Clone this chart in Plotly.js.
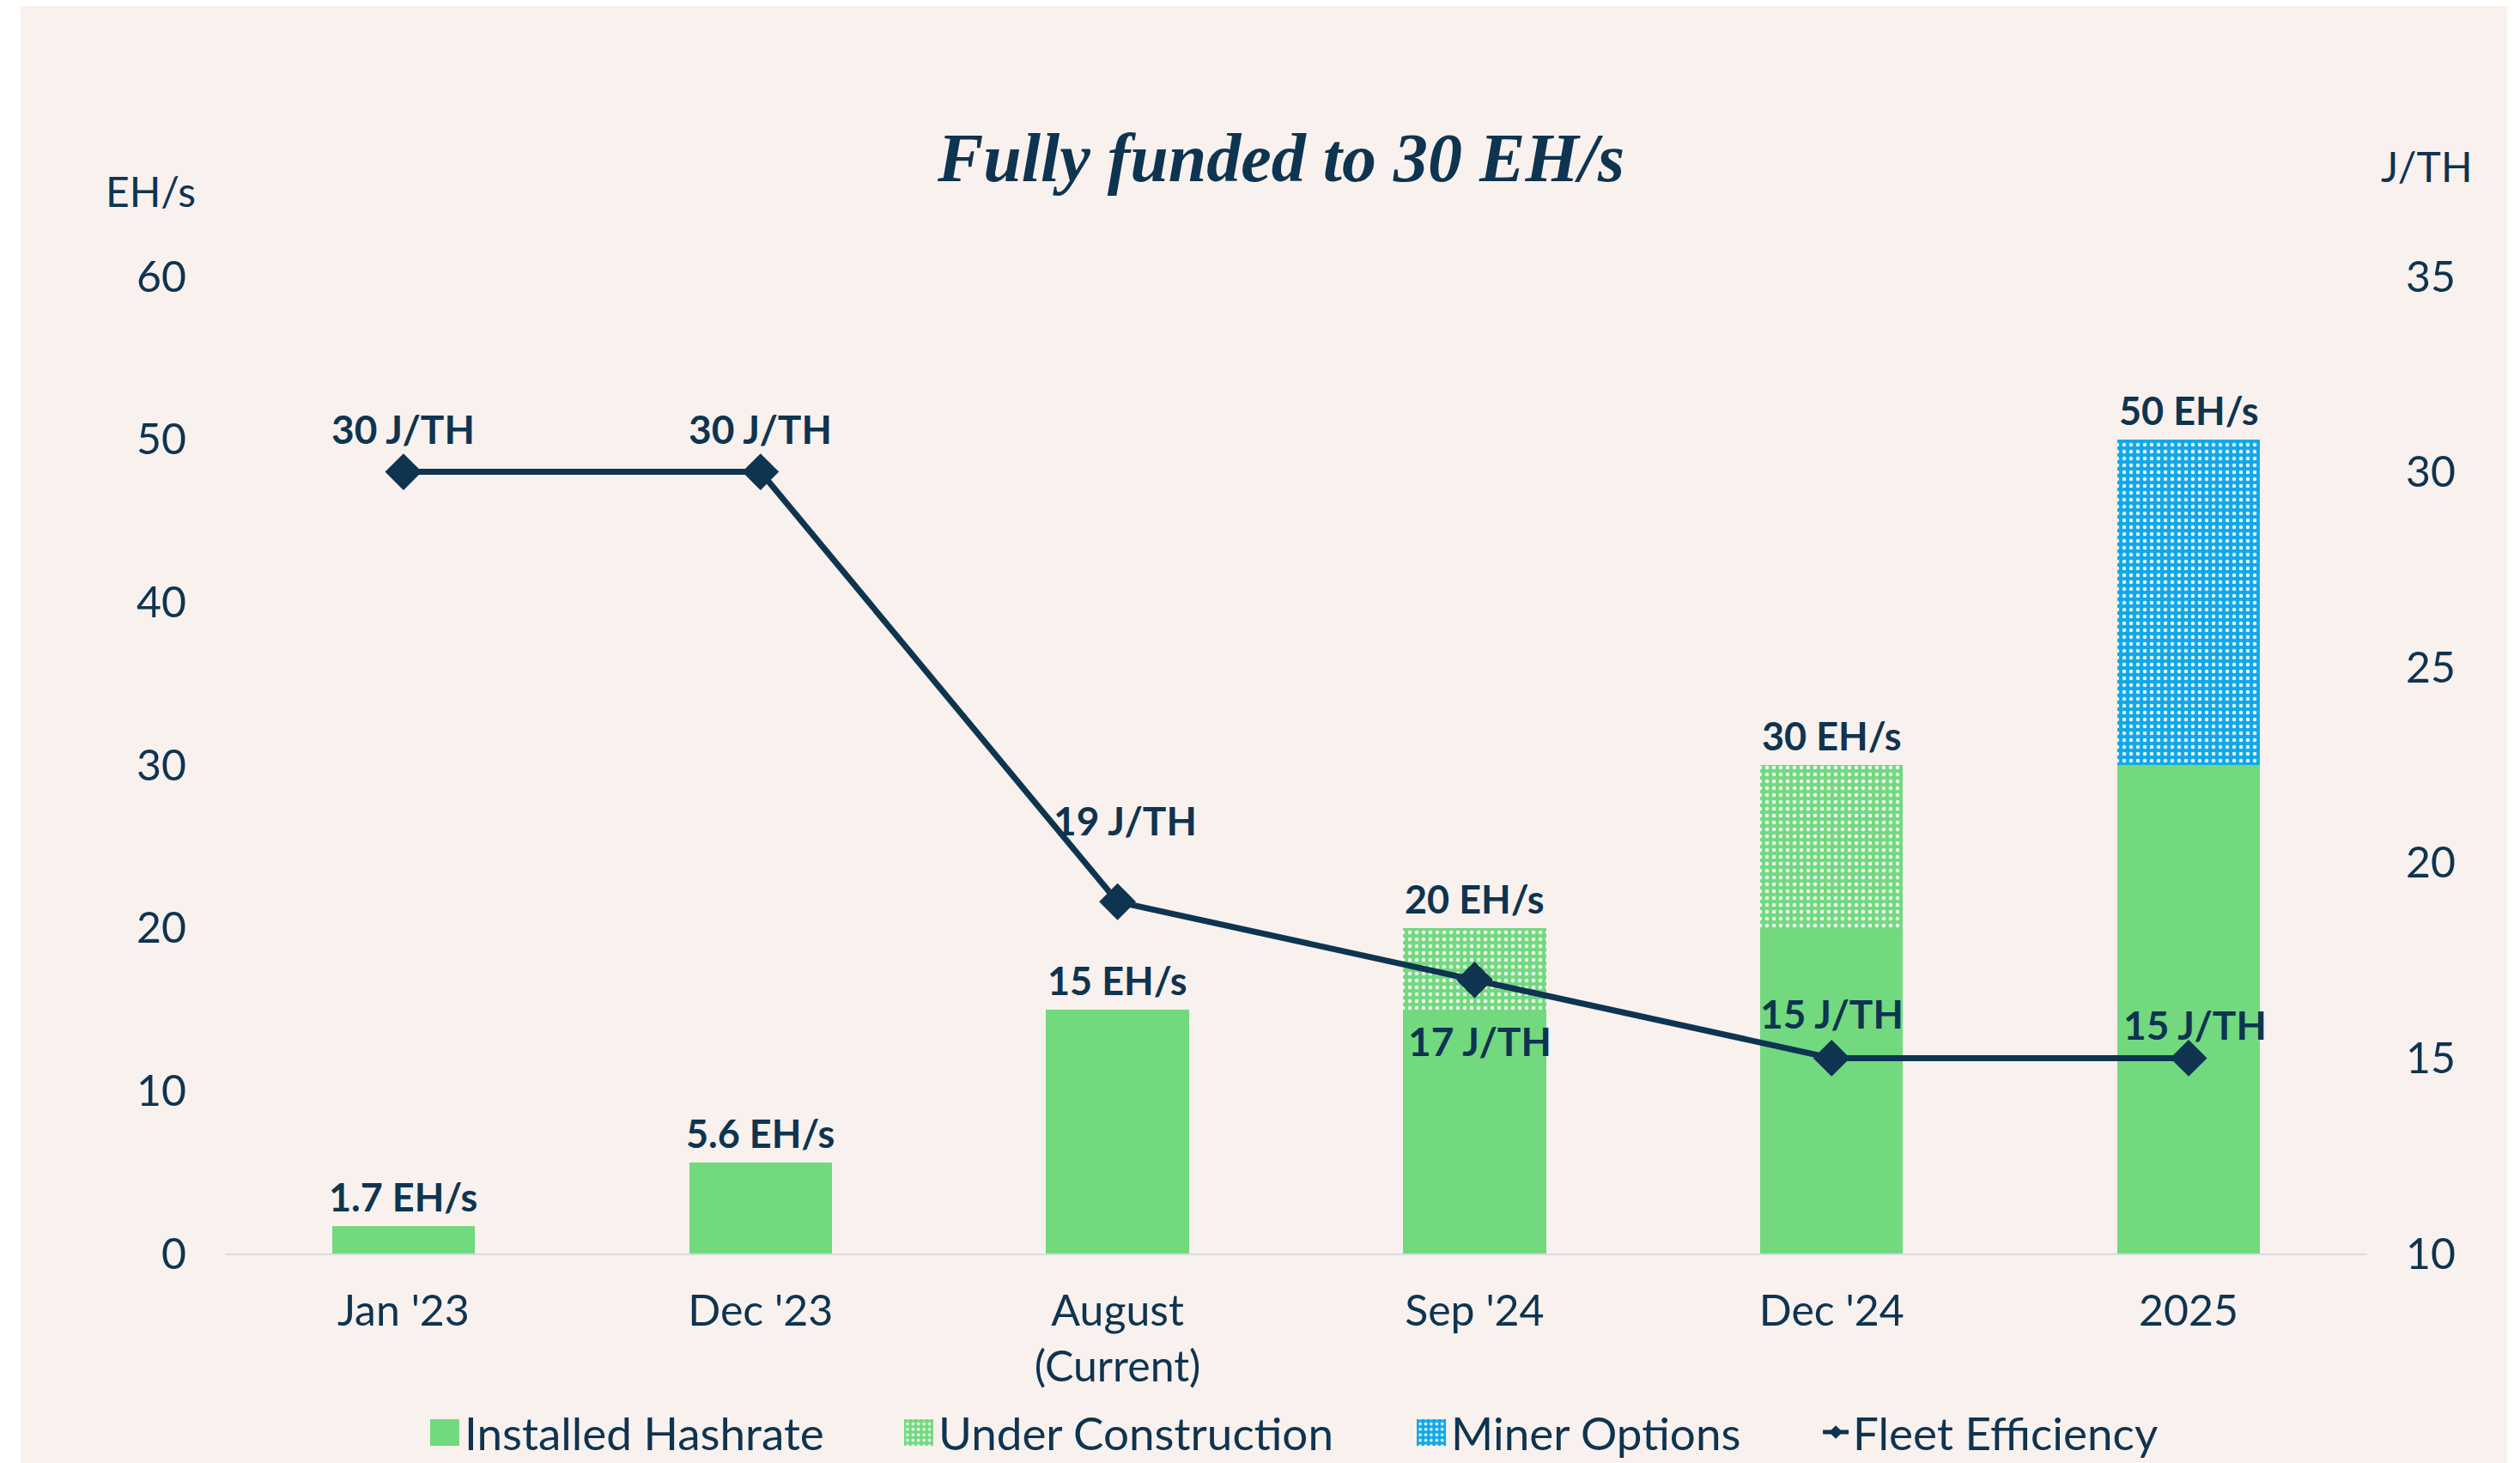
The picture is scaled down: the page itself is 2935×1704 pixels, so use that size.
<!DOCTYPE html>
<html>
<head>
<meta charset="utf-8">
<script src="https://cdn.plot.ly/plotly-3.0.1.min.js"></script>
<style>
  html, body { margin: 0; padding: 0; background: #ffffff; width: 2935px; height: 1704px; overflow: hidden; }
  #chart { position: absolute; left: 24px; top: 7px; width: 2896px; height: 1697px; }
</style>
</head>
<body>
<div id="chart"></div>
<script>
// ---- data ----
const categories = ["Jan '23", "Dec '23", "August<br>(Current)", "Sep '24", "Dec '24", "2025"];
const installedHashrate = [1.7, 5.6, 15, 15, 20, 30];
const underConstruction = [0, 0, 0, 5, 10, 0];
const minerOptions = [0, 0, 0, 0, 0, 20];
const fleetEfficiency = [30, 30, 19, 17, 15, 15];
const totalLabels = ["1.7 EH/s", "5.6 EH/s", "15 EH/s", "20 EH/s", "30 EH/s", "50 EH/s"];
const efficiencyLabels = ["30 J/TH", "30 J/TH", "19 J/TH", "17 J/TH", "15 J/TH", "15 J/TH"];
const leftTicks = [0, 10, 20, 30, 40, 50, 60];
const rightTicks = [10, 15, 20, 25, 30, 35];

// ---- label placement (style, px) ----
const effLabelYShift = [50, 50, 95, -71, 52, 39];
const effLabelXShift = [0, 0, 9, 6, 0, 7];

const NAVY = '#0E3450';
const GREEN = '#72D97F';
const BLUE = '#12A8E8';
const BG = '#F9F1EE';
const SANS = 'Lato, "Noto Sans", sans-serif';

const totals = installedHashrate.map((v, i) => v + underConstruction[i] + minerOptions[i]);

const barNames = ['Installed Hashrate', 'Under Construction', 'Miner Options'];

const traces = [
  {
    type: 'bar', name: barNames[0], x: categories, y: installedHashrate, legend: 'legend',
    marker: { color: GREEN, line: { width: 0 } }, width: 0.4, hoverinfo: 'skip'
  },
  {
    type: 'bar', name: barNames[1], x: categories, y: underConstruction, legend: 'legend2',
    marker: { color: GREEN, line: { width: 0 },
      pattern: { shape: '.', bgcolor: GREEN, fgcolor: '#ffffff', fgopacity: 0.9, size: 8, solidity: 0.25 } },
    width: 0.4, hoverinfo: 'skip'
  },
  {
    type: 'bar', name: barNames[2], x: categories, y: minerOptions, legend: 'legend3',
    marker: { color: BLUE, line: { width: 0 },
      pattern: { shape: '.', bgcolor: BLUE, fgcolor: '#ffffff', fgopacity: 0.9, size: 8, solidity: 0.25 } },
    width: 0.4, hoverinfo: 'skip'
  },
  {
    type: 'scatter', mode: 'lines+markers', name: 'Fleet Efficiency', legend: 'legend4',
    x: categories, y: fleetEfficiency, yaxis: 'y2',
    line: { color: NAVY, width: 7 },
    marker: { symbol: 'diamond', size: 33, color: NAVY },
    cliponaxis: false, hoverinfo: 'skip'
  }
];

const annotations = categories.map((c, i) => ({
  x: i, y: totals[i], xref: 'x', yref: 'y', text: '<b>' + totalLabels[i] + '</b>',
  showarrow: false, yanchor: 'middle', yshift: 34,
  font: { family: SANS, size: 45, color: NAVY }
}));

categories.forEach((c, i) => {
  annotations.push({
    x: i, y: fleetEfficiency[i], xref: 'x', yref: 'y2', text: '<b>' + efficiencyLabels[i] + '</b>',
    showarrow: false, xanchor: 'center', yanchor: 'middle',
    yshift: effLabelYShift[i], xshift: effLabelXShift[i],
    font: { family: SANS, size: 46, color: NAVY }
  });
});

annotations.push({
  text: 'EH/s', xref: 'paper', yref: 'paper', x: -0.0345, y: 1.087,
  xanchor: 'center', yanchor: 'middle', showarrow: false,
  font: { family: SANS, size: 48, color: NAVY }
});
annotations.push({
  text: 'J/TH', xref: 'paper', yref: 'paper', x: 1.0277, y: 1.113,
  xanchor: 'center', yanchor: 'middle', showarrow: false,
  font: { family: SANS, size: 48, color: NAVY }
});

function legendAt(x) {
  return {
    orientation: 'h', xref: 'container', yref: 'container',
    x: x, xanchor: 'left', y: 0.0212, yanchor: 'middle',
    font: { family: SANS, size: 53, color: NAVY }, bgcolor: 'rgba(0,0,0,0)',
    itemsizing: 'constant'
  };
}

const layout = {
  width: 2896, height: 1697,
  paper_bgcolor: BG, plot_bgcolor: BG,
  margin: { l: 238, r: 163, t: 315, b: 244 },
  barmode: 'stack',
  showlegend: true,
  title: {
    text: '<b><i>Fully funded to 30 EH/s</i></b>',
    x: 0.5069, xanchor: 'center', y: 0.8963, yanchor: 'middle',
    font: { family: '"Liberation Serif", "DejaVu Serif", serif', size: 80, color: NAVY }
  },
  xaxis: {
    type: 'category', range: [-0.5, 5.5],
    tickfont: { family: SANS, size: 50, color: NAVY },
    showgrid: false, zeroline: false, showline: true, linecolor: '#DCDCDC', linewidth: 2,
    ticks: '', ticklabelstandoff: 22
  },
  yaxis: {
    range: [0, 60], tickvals: leftTicks, ticktext: leftTicks.map(String),
    tickfont: { family: SANS, size: 50, color: NAVY },
    showgrid: false, zeroline: false, showline: false, ticks: '', ticklabelstandoff: 44
  },
  yaxis2: {
    overlaying: 'y', side: 'right', range: [10, 35], tickvals: rightTicks, ticktext: rightTicks.map(String),
    tickfont: { family: SANS, size: 50, color: NAVY },
    showgrid: false, zeroline: false, showline: false, ticks: '', ticklabelstandoff: 44
  },
  legend: legendAt(0.1647),
  legend2: legendAt(0.3553),
  legend3: legendAt(0.5615),
  legend4: legendAt(0.7231),
  annotations: annotations
};

// enlarge the bar legend swatches to match the reference's large square keys
function enlargeSwatches() {
  document.querySelectorAll('#chart .legendpoints path').forEach(p => {
    const d = (p.getAttribute('d') || '').replace(/\s/g, '');
    if (d === 'M6,6H-6V-6H6Z') p.setAttribute('d', 'M14,16H-36V-15H14Z');
  });
}

const gd = document.getElementById('chart');
Plotly.newPlot(gd, traces, layout, { displayModeBar: false, staticPlot: true }).then(() => {
  enlargeSwatches();
  requestAnimationFrame(enlargeSwatches);
  setTimeout(enlargeSwatches, 50);
  setTimeout(enlargeSwatches, 300);
});
gd.on && gd.on('plotly_afterplot', enlargeSwatches);
</script>
</body>
</html>
